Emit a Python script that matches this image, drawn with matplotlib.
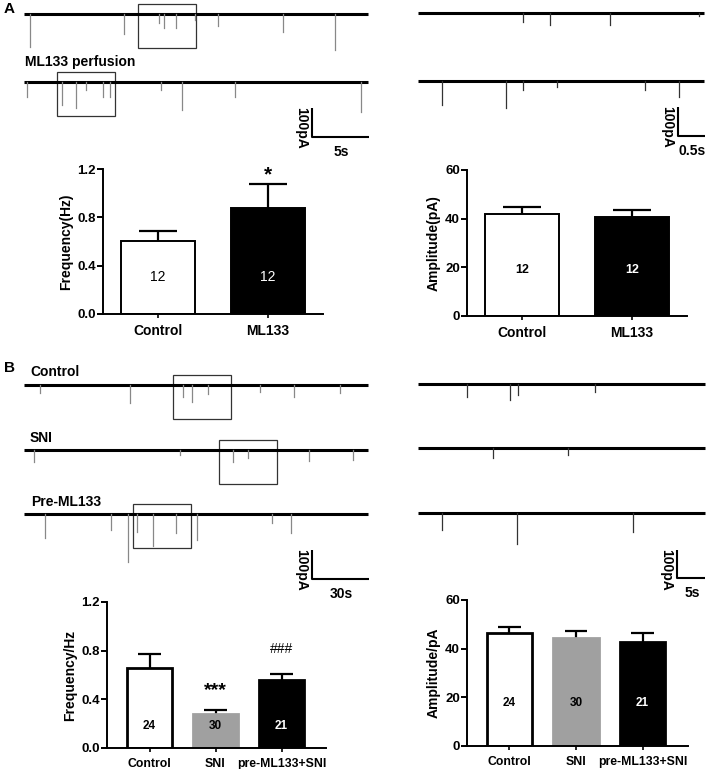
import numpy as np
import matplotlib.pyplot as plt
from matplotlib.patches import Rectangle

plt.rcParams['font.family'] = ['Liberation Sans', 'DejaVu Sans']
plt.rcParams['font.weight'] = 'bold'
plt.rcParams['axes.labelweight'] = 'bold'

W, H = 708, 769

# ---- bar chart data ----
a_groups = ["Control", "ML133"]
a_freq = [0.60, 0.88]
a_freq_err = [0.085, 0.195]
a_amp = [41.8, 40.7]
a_amp_err = [3.1, 2.9]
a_n = [12, 12]

b_groups = ["Control", "SNI", "pre-ML133+SNI"]
b_freq = [0.66, 0.28, 0.56]
b_freq_err = [0.11, 0.036, 0.045]
b_amp = [46.3, 44.2, 42.8]
b_amp_err = [2.7, 3.2, 3.6]
b_n = [24, 30, 21]

# ---- sEPSC traces: event times (s) and amplitudes (pA) ----
a_ctrl_t = [0.53, 8.77, 11.84, 12.28, 13.33, 15.0, 17.02, 22.72, 27.28]
a_ctrl_amp = [114, 69, 31, 48, 48, 21, 41, 62, 124]
a_ml_t = [0.26, 3.33, 4.56, 5.44, 6.93, 7.54, 12.02, 13.86, 18.51, 29.56]
a_ml_amp = [52, 79, 90, 28, 52, 52, 28, 97, 52, 103]
a_ctrl_zoom_t = [1.94, 2.44, 3.56, 5.2]
a_ctrl_zoom_amp = [31, 41, 41, 12]
a_ml_zoom_t = [0.44, 1.63, 1.94, 2.57, 4.20, 4.83]
a_ml_zoom_amp = [83, 93, 31, 21, 31, 55]

b_ctrl_t = [8.4, 55.8, 83.7, 88.4, 96.8, 124.2, 142.1, 166.3]
b_ctrl_amp = [28, 62, 41, 59, 31, 24, 41, 28]
b_sni_t = [5.3, 82.1, 110.0, 117.9, 150.0, 173.2]
b_sni_amp = [41, 17, 41, 28, 38, 34]
b_pre_t = [11.1, 45.8, 54.7, 59.5, 67.9, 80.0, 91.1, 130.5, 140.5]
b_pre_amp = [83, 55, 166, 62, 110, 66, 90, 31, 66]
b_ctrl_zoom_t = [8.75, 16.4, 17.9, 31.6]
b_ctrl_zoom_amp = [46, 57, 39, 29]
b_sni_zoom_t = [13.4, 26.8]
b_sni_zoom_amp = [36, 25]
b_pre_zoom_t = [4.3, 17.7, 38.4]
b_pre_zoom_amp = [61, 111, 68]

# zoom windows (start s, length s)
a_ctrl_box = (10.0, 5.1)
a_ml_box = (2.9, 5.1)
b_ctrl_box = (78.4, 30.5)
b_sni_box = (102.6, 30.5)
b_pre_box = (57.4, 30.5)

fig = plt.figure(figsize=(W / 100, H / 100), dpi=100)
ax0 = fig.add_axes([0, 0, 1, 1])
ax0.set_xlim(0, W)
ax0.set_ylim(H, 0)
ax0.axis('off')


def draw_trace(x0, y0, px_s, px_pa, dur, times, amps, color, box=None):
    x1 = x0 + dur * px_s
    ax0.plot([x0, x1], [y0, y0], color='black', lw=2.2, solid_capstyle='butt')
    for t, a in zip(times, amps):
        x = x0 + t * px_s
        ax0.plot([x, x], [y0, y0 + a * px_pa], color=color, lw=0.9)
    if box is not None:
        bx = x0 + box[0] * px_s
        ax0.add_patch(Rectangle((bx, y0 - 10), box[1] * px_s, 44,
                                fill=False, ec='#333333', lw=0.9))


def scale_bar(x, y, w, h, tlabel):
    ax0.plot([x, x, x + w], [y - h, y, y], color='black', lw=1.5,
             solid_capstyle='butt')
    ax0.text(x - 4, y - h - 1, "100pA", rotation=-90, ha='right',
             va='top', fontsize=10)
    ax0.text(x + w / 2 + 1, y + 15, tlabel, ha='center', va='center',
             fontsize=10)


# panel A traces
ax0.text(4, 9, "A", fontsize=11, va='center')
draw_trace(24, 14, 11.4, 0.29, 30.2, a_ctrl_t, a_ctrl_amp, '#888888', a_ctrl_box)
ax0.text(25, 62, "ML133 perfusion", fontsize=10, va='center')
draw_trace(24, 82, 11.4, 0.29, 30.2, a_ml_t, a_ml_amp, '#888888', a_ml_box)
scale_bar(312, 137, 57, 29, "5s")
draw_trace(418, 13, 54.0, 0.29, 5.3, a_ctrl_zoom_t, a_ctrl_zoom_amp, '#333333')
draw_trace(418, 81, 54.0, 0.29, 5.3, a_ml_zoom_t, a_ml_zoom_amp, '#333333')
scale_bar(678, 136, 27, 29, "0.5s")

# panel B traces
ax0.text(4, 368, "B", fontsize=11, va='center')
ax0.text(30, 372, "Control", fontsize=10, va='center')
draw_trace(24, 385, 1.9, 0.29, 181, b_ctrl_t, b_ctrl_amp, '#888888', b_ctrl_box)
ax0.text(30, 438, "SNI", fontsize=10, va='center')
draw_trace(24, 450, 1.9, 0.29, 181, b_sni_t, b_sni_amp, '#888888', b_sni_box)
ax0.text(31, 502, "Pre-ML133", fontsize=10, va='center')
draw_trace(24, 514, 1.9, 0.29, 181, b_pre_t, b_pre_amp, '#888888', b_pre_box)
scale_bar(312, 579, 57, 29, "30s")
draw_trace(418, 384, 5.6, 0.28, 51.2, b_ctrl_zoom_t, b_ctrl_zoom_amp, '#333333')
draw_trace(418, 448, 5.6, 0.28, 51.2, b_sni_zoom_t, b_sni_zoom_amp, '#333333')
draw_trace(418, 513, 5.6, 0.28, 51.2, b_pre_zoom_t, b_pre_zoom_amp, '#333333')
scale_bar(677, 578, 28, 28, "5s")


def px_axes(x0, y0, x1, y1):
    return fig.add_axes([x0 / W, 1 - y1 / H, (x1 - x0) / W, (y1 - y0) / H])


def bar_panel(ax, groups, vals, errs, ns, ymax, yticks, ylabel, faces, edges,
              width, xlim, cap, n_y, n_size, n_weight, xsize, edge_lw):
    x = np.arange(len(groups))
    ax.bar(x, vals, width=width, color=faces, edgecolor=edges, lw=edge_lw,
           zorder=2)
    tops = np.array(vals) + np.array(errs)
    ax.vlines(x, vals, tops, color='black', lw=1.6, zorder=1)
    ax.hlines(tops, x - cap, x + cap, color='black', lw=1.6, zorder=1)
    for xi, n, f in zip(x, ns, faces):
        c = 'white' if f == 'black' else 'black'
        ax.text(xi, n_y, str(n), ha='center', va='center', color=c,
                fontsize=n_size, fontweight=n_weight)
    ax.set_xlim(*xlim)
    ax.set_ylim(0, ymax)
    ax.set_yticks(yticks)
    ax.set_xticks(x)
    ax.set_xticklabels(groups, fontsize=xsize)
    ax.set_ylabel(ylabel, fontsize=10, labelpad=3)
    for s in ['top', 'right']:
        ax.spines[s].set_visible(False)
    for s in ['left', 'bottom']:
        ax.spines[s].set_linewidth(1.4)
    ax.tick_params(axis='y', length=4, width=1.4, labelsize=9.5, pad=1)
    ax.tick_params(axis='x', length=3, width=1.2, pad=4)


ax1 = px_axes(103, 169, 323, 314)
bar_panel(ax1, a_groups, a_freq, a_freq_err, a_n, 1.2, [0.0, 0.4, 0.8, 1.2],
          "Frequency(Hz)", ['white', 'black'], ['black', 'black'], 0.673,
          (-0.5, 1.5), 0.177, 0.31, 10, 'normal', 10, 1.4)
ax1.set_yticklabels(["0.0", "0.4", "0.8", "1.2"])
ax1.text(1, 1.15, "*", ha='center', va='center', fontsize=15)

ax2 = px_axes(467, 170, 687, 316)
bar_panel(ax2, a_groups, a_amp, a_amp_err, a_n, 60, [0, 20, 40, 60],
          "Amplitude(pA)", ['white', 'black'], ['black', 'black'], 0.673,
          (-0.5, 1.5), 0.177, 18.9, 9, 'bold', 10, 1.4)

ax3 = px_axes(107, 602, 326, 748)
bar_panel(ax3, b_groups, b_freq, b_freq_err, b_n, 1.2, [0.0, 0.4, 0.8, 1.2],
          "Frequency/Hz", ['white', '#a0a0a0', 'black'],
          ['black', '#a0a0a0', 'black'], 0.68, (-0.644, 2.674), 0.167,
          0.178, 8.5, 'bold', 8.8, 2.0)
ax3.set_yticklabels(["0.0", "0.4", "0.8", "1.2"])
ax3.text(1, 0.474, "***", ha='center', va='center', fontsize=14)
ax3.text(2, 0.816, "###", ha='center', va='center', fontsize=10,
         fontweight='normal')

ax4 = px_axes(467, 600, 688, 746)
bar_panel(ax4, b_groups, b_amp, b_amp_err, b_n, 60, [0, 20, 40, 60],
          "Amplitude/pA", ['white', '#a0a0a0', 'black'],
          ['black', '#a0a0a0', 'black'], 0.68, (-0.639, 2.684), 0.167,
          17.8, 8.5, 'bold', 8.8, 2.0)

fig.savefig("out.png", dpi=100)
